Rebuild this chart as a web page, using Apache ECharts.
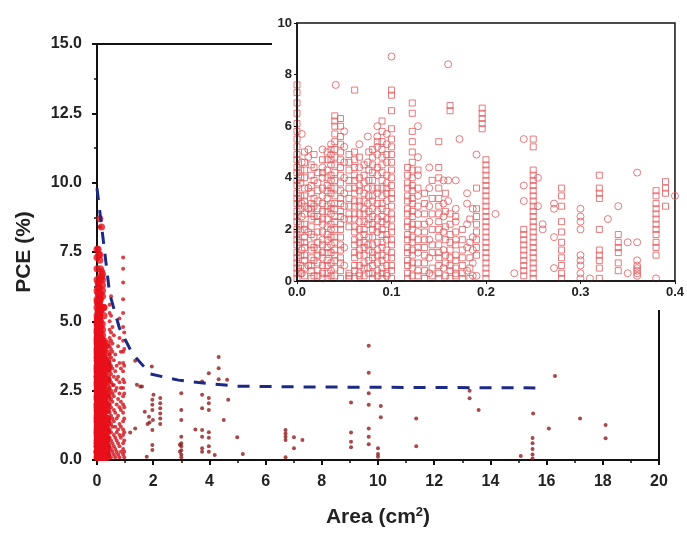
<!DOCTYPE html>
<html>
<head>
<meta charset="utf-8">
<title>PCE vs Area</title>
<script src="https://cdn.jsdelivr.net/npm/echarts@6/dist/echarts.min.js"></script>
<style>
html,body{margin:0;padding:0;background:#fff;}
#chart{width:687px;height:533px;}
</style>
</head>
<body>
<div id="chart"></div>
<script>
// axis ranges (main plot and inset)
var mainXRange = [0, 20, 2];
var mainYRange = [0, 15, 2.5];
var insetXRange = [0, 0.4, 0.1];
var insetYRange = [0, 10, 2];

// small-area cells, hollow squares in the inset: [area, [pce...]]
var insetSquareCols = [
	[0.000, [0.1,0.3,0.5,0.7,0.9,1.1,1.4,1.6,1.8,2.0,2.3,2.5,2.7,3.0,3.2,3.4,3.7,3.9,4.2,4.4,4.7,4.9,5.2,5.5,5.8,6.1,6.5,6.9,7.3,7.6]],
	[0.004, [0.3,0.6,1.0,1.5,1.9,2.2,2.8,3.3,3.8,4.0,4.3]],
	[0.008, [0.2,0.5,0.8,1.0,1.3,1.5,1.7,2.0,2.2,2.6,2.9,3.1,3.3,3.6,4.0,4.3,4.6,5.0]],
	[0.015, [0.1,0.4,0.6,0.9,1.2,1.4,1.8,2.1,2.4,2.6,2.8,3.0,3.4,3.7,4.1,4.5]],
	[0.018, [0.2,0.8,1.3,1.7,2.5,2.9,3.2,3.9,4.4,4.9]],
	[0.022, [0.2,0.4,0.7,1.0,1.2,1.5,1.9,2.3,2.5,2.8,3.1,3.5,3.8,4.2]],
	[0.027, [0.3,0.6,1.1,1.4,1.9,2.4,2.7,3.0,3.6,4.2,4.7]],
	[0.032, [0.1,0.3,0.6,0.8,1.1,1.3,1.6,1.8,2.1,2.4,2.7,2.9,3.2,3.5,3.7,4.0,4.3,4.7,5.0]],
	[0.036, [0.2,0.7,1.1,1.7,2.2,2.8,3.4,3.6,4.1,4.7,5.1]],
	[0.040, [0.2,0.5,0.8,1.0,1.2,1.5,1.7,2.0,2.3,2.5,2.8,3.0,3.3,3.6,3.9,4.2,4.5,4.8,5.1,5.4,5.7,6.0,6.2,6.4]],
	[0.046, [0.1,0.4,0.7,0.9,1.2,1.4,1.7,2.0,2.2,2.5,2.7,3.0,3.2,3.5,3.8,4.1,4.4,4.7,5.0,5.3,5.6,6.0,6.3]],
	[0.055, [0.1,0.2,0.3,2.1,2.4,2.6,2.9,3.2,3.6,3.9,4.3,4.6,4.9]],
	[0.061, [0.1,0.4,0.6,0.9,1.1,1.4,1.6,1.9,2.1,2.4,2.6,2.9,3.1,3.4,3.6,3.9,4.1,4.4,4.7,5.0,7.4]],
	[0.066, [0.2,0.6,1.2,1.5,2.0,2.6,3.1,3.5,4.0,4.8]],
	[0.071, [0.2,0.5,0.7,1.0,1.3,1.5,1.8,2.0,2.3,2.6,2.8,3.1,3.4,3.8,4.1,4.5]],
	[0.076, [0.3,0.8,1.2,1.7,2.4,2.7,3.3,3.9,4.3,5.0]],
	[0.080, [0.1,0.3,0.6,0.9,1.1,1.4,1.7,2.0,2.2,2.5,2.8,3.1,3.3,3.6,3.9,4.2,4.5,4.8,5.1]],
	[0.085, [0.2,0.7,1.0,1.5,2.1,2.4,3.0,3.6,4.4,5.4]],
	[0.090, [0.1,0.3,0.5,0.8,1.0,1.3,1.5,1.8,2.0,2.3,2.5,2.8,3.0,3.3,3.6,3.9,4.2,4.5,4.8,5.1,5.4,5.8,6.2]],
	[0.095, [0.3,0.6,1.2,1.8,2.2,2.7,3.4,3.6,4.1,4.9]],
	[0.100, [0.1,0.4,0.6,0.9,1.1,1.4,1.6,1.9,2.1,2.4,2.6,2.9,3.2,3.4,3.7,4.0,4.3,4.6,4.9,5.2,5.5,5.9,6.6,7.2,7.4]],
	[0.117, [0.1,0.3,0.6,0.8,1.1,1.3,1.6,1.8,2.1,2.3,2.6,2.8,3.1,3.3,3.6,3.8,4.1,4.4]],
	[0.122, [0.2,0.5,0.7,1.0,1.2,1.5,1.7,2.0,2.2,2.5,2.7,3.0,3.2,3.5,3.7,4.0,4.3,4.6,5.0,5.4,5.8,6.5,6.9]],
	[0.128, [0.2,0.7,1.3,1.6,2.2,2.9,3.6,4.3]],
	[0.135, [0.1,0.4,0.7,1.0,1.3,1.6,1.9,2.2,2.6,3.0,3.4]],
	[0.143, [0.2,0.5,1.1,1.4,2.0,2.6,3.2,3.9]],
	[0.150, [0.1,0.3,0.6,0.9,1.1,1.4,1.7,2.0,2.3,2.6,2.9,3.2,3.6,4.0,4.4,5.4]],
	[0.157, [0.2,0.7,1.0,1.6,2.1,2.7,3.4]],
	[0.162, [0.1,0.4,0.6,0.9,1.2,1.5,1.8,2.2,2.6,6.6,6.8]],
	[0.168, [0.2,0.5,0.8,1.4,1.9,2.5]],
	[0.175, [0.1,0.3,0.6,0.9,1.2,1.6,2.0]],
	[0.183, [0.1,0.5,0.9,1.5,2.4]],
	[0.190, [1.0,1.3,1.6,1.9,2.2,2.5,2.8,3.6]],
	[0.196, [5.9,6.1,6.3,6.5,6.7]],
	[0.200, [0.1,0.3,0.5,0.7,0.9,1.1,1.3,1.5,1.7,1.9,2.1,2.3,2.5,2.7,2.9,3.1,3.3,3.5,3.7,3.9,4.1,4.3,4.5,4.7]],
	[0.240, [0.2,0.4,0.6,0.8,1.0,1.2,1.4,1.6,1.8,2.0]],
	[0.250, [0.1,0.3,0.5,0.7,0.9,1.1,1.3,1.5,1.7,1.9,2.1,2.3,2.5,2.7,2.9,3.1,3.3,3.5,3.7,3.9,4.1,4.3,5.2,5.5]],
	[0.280, [0.1,0.3,0.6,0.9,1.2,1.5,1.9,2.3,2.9,3.3,3.6]],
	[0.320, [0.1,0.5,0.8,1.0,1.2,2.0,3.2,3.4,3.6,4.1]],
	[0.340, [0.4,0.7,1.1,1.3,1.5,1.8]],
	[0.380, [1.0,1.3,1.5,1.8,2.0,2.2,2.4,2.6,2.8,3.0,3.3,3.5]],
	[0.390, [2.9,3.4,3.6,3.85]]
];

// hollow circles in the inset
var insetCircleCols = [
	[0.005, [0.3,1.2,2.5,3.0,4.6,5.7]],
	[0.012, [0.6,1.9,2.8,3.6,4.8,5.1]],
	[0.027, [0.1,0.9,1.6,2.2,3.3,4.0,4.4,5.1]],
	[0.036, [0.4,1.4,2.0,2.6,3.0,3.9,4.5,4.9,5.3]],
	[0.041, [7.6]],
	[0.050, [0.6,1.3,2.4,2.9,3.4,4.0,4.6,5.2,5.8]],
	[0.066, [0.3,1.0,1.7,2.3,2.9,3.7,4.4,5.3]],
	[0.075, [0.5,1.4,2.2,3.0,3.6,4.6,5.6]],
	[0.085, [0.4,1.2,1.9,2.7,3.4,4.1,4.9,5.2,5.6,6.0]],
	[0.095, [0.2,0.9,1.6,2.4,3.1,3.8,4.6,5.3,5.7]],
	[0.100, [8.7]],
	[0.128, [0.4,1.1,1.9,2.6,3.3,4.1,4.8,6.0]],
	[0.140, [0.3,0.9,1.6,2.3,2.9,3.6,4.4]],
	[0.155, [0.5,1.2,1.9,2.5,3.0,3.9]],
	[0.160, [3.1,3.9,8.4]],
	[0.168, [0.3,1.0,1.6,2.3,2.8,3.9]],
	[0.172, [5.5]],
	[0.180, [0.4,1.3,2.2,3.0,3.4]],
	[0.186, [0.2,0.7,1.2,1.7,2.8]],
	[0.190, [0.2,4.9]],
	[0.210, [2.6]],
	[0.230, [0.3]],
	[0.240, [3.1,3.7,5.5]],
	[0.255, [2.9,4.0]],
	[0.260, [2.0,2.2]],
	[0.272, [0.5,1.7,2.8,3.0]],
	[0.300, [0.1,0.3,0.6,0.8,1.0,2.0,2.3,2.5,2.8]],
	[0.310, [0.1]],
	[0.329, [2.4]],
	[0.340, [2.9]],
	[0.350, [0.3,1.5]],
	[0.360, [0.2,0.3,0.4,0.5,0.6,0.8,1.5,4.2]],
	[0.380, [0.1]],
	[0.400, [3.3]]
];

// 0.4 - 1 cm2 cells, only visible in the main plot
var mainSmallCols = [
	[0.45, [0.2,0.5,0.8,1.1,1.4,1.7,2.0,2.3,2.6,2.9,3.2,3.5,3.8,4.1,4.4,4.7,5.0,5.3,5.6]],
	[0.50, [0.1,0.4,0.7,1.0,1.3,1.6,1.9,2.2,2.5,2.8,3.1,3.4,3.7,4.0,4.3,4.6,5.2,5.9]],
	[0.55, [0.3,0.6,1.2,1.5,2.1,2.4,2.7,3.3,3.9,4.2,4.8]],
	[0.60, [0.2,0.5,0.9,1.4,1.8,2.3,2.7,3.0,3.6,4.5]],
	[0.65, [0.1,0.4,0.8,1.2,1.7,2.5,3.2,3.8]],
	[0.70, [0.3,0.7,1.0,1.5,2.0,2.6,2.9,3.4]],
	[0.75, [0.2,0.6,1.1,1.6,2.2,3.0,4.1]],
	[0.80, [0.1,0.5,0.9,1.3,1.9,2.4,2.8,3.5,4.4,5.1]],
	[0.85, [0.3,0.8,1.2,1.8,2.1,2.6,3.3,3.9]],
	[0.93, [0.2,0.4,0.6,0.9,1.1,1.4,1.7,2.0,2.3,2.6,2.9,3.2,3.5,3.9,4.3,4.8,5.3,5.8,6.4,6.9,7.3]],
	[0.97, [0.1,0.3,0.7,1.0,1.5,1.9,2.4,2.8,3.4,4.0,4.6]],
	[0.11, [8.4]]
];

// larger cells (area, pce)
var mainLargePts = [
	[1.18,0.99],[1.36,1.14],[1.36,3.58],[1.42,2.71],[1.54,2.65],[1.6,2.65],[1.7,1.74],[1.77,0.12],
	[1.8,1.3],[1.85,1.56],[1.87,1.35],[1.95,3.37],[2.01,2.35],[1.97,2.17],[1.97,1.99],[1.97,1.8],
	[1.99,1.44],[1.97,1.08],[1.97,0.54],[1.97,0.36],[2.25,2.24],[2.25,2.05],[2.25,1.87],[2.25,1.68],
	[2.25,1.5],[2.25,1.3],[3.0,2.41],[3.0,1.8],[3.0,1.44],[3.0,0.84],[3.0,0.6],[3.0,0.5],[3.0,0.35],
	[3.0,0.2],[3.0,0.1],[2.95,0.55],[2.95,0.3],[3.74,2.35],[3.74,1.87],[3.74,1.08],[3.74,0.84],
	[3.74,0.42],[3.74,0.3],[3.5,1.1],[3.98,3.13],[3.98,2.24],[3.98,2.05],[3.98,1.8],[3.98,1.0],
	[3.98,0.8],[3.98,0.5],[3.98,0.3],[4.19,0.18],[3.74,2.83],[4.33,3.71],[4.33,3.31],[4.33,2.91],
	[4.63,2.89],[4.51,1.44],[4.67,2.17],[4.99,0.82],[5.19,0.22],[6.71,1.08],[6.71,0.96],[6.71,0.84],
	[6.71,0.72],[7.01,0.82],[7.31,0.72],[7.01,0.42],[6.71,0.1],[9.67,4.12],[9.67,3.15],[9.67,2.41],
	[9.67,1.99],[9.04,2.07],[10.1,1.95],[10.1,1.54],[11.36,1.5],[11.36,0.5],[9.04,0.99],[9.04,0.66],
	[9.04,0.46],[9.67,1.14],[9.67,0.84],[9.67,0.57],[10.0,0.42],[10.0,0.22],[10.0,0.12],[16.3,3.03],
	[13.26,2.5],[13.26,2.23],[13.58,1.8],[15.52,1.68],[16.08,1.14],[17.19,1.5],[15.5,0.79],[15.5,0.6],
	[15.5,0.4],[15.5,0.2],[15.5,0.05],[15.08,0.14],[18.1,1.26],[18.1,0.78]
];

// trend of the best PCE (dashed)
var bestLine = [
	[0,9.8],[0.25,7.7],[0.45,6.0],[0.8,4.75],[1.25,3.85],[1.9,3.1],[2.9,2.88],[4,2.75],[5,2.66],[8,2.63],[15.6,2.6]
];

function flatCols(cols) { // [x,[y..]] -> [[x,y]..]
	var out = [];
	for (var i = 0; i < cols.length; i++) {
		for (var j = 0; j < cols[i][1].length; j++) out.push([cols[i][0], cols[i][1][j]]);
	}
	return out;
}

var insetSquares = flatCols(insetSquareCols);
var insetCircles = flatCols(insetCircleCols);
var mainTiny = insetSquares.concat(insetCircles); // < 0.4 cm2, solid block in main plot

var font = 'Liberation Sans, Arial, sans-serif';
var lblMain = { fontFamily: font, fontWeight: 'bold', fontSize: 16, color: '#222' };
var lblInset = { fontFamily: font, fontWeight: 'bold', fontSize: 13, color: '#222' };
var blackLine = { lineStyle: { color: '#111', width: 2 } };

var chart = echarts.init(document.getElementById('chart'));
chart.setOption({
	animation: false,
	backgroundColor: '#fff',
	grid: [
		{ left: 97, right: 28, top: 44, bottom: 73, show: true, borderColor: '#111', borderWidth: 2, backgroundColor: 'transparent', z: 0 },
		{ left: 297, right: 9, top: 23, bottom: 252, show: true, borderColor: '#111', borderWidth: 1.5, backgroundColor: 'transparent', z: 10 }
	],
	graphic: [{ // white box behind the inset (hides main frame)
		type: 'rect', left: 272, top: 0, z: 5,
		shape: { width: 415, height: 310 },
		style: { fill: '#fff' }
	}],
	xAxis: [
		{
			gridIndex: 0, type: 'value', min: mainXRange[0], max: mainXRange[1], interval: mainXRange[2],
			axisLine: blackLine,
			axisTick: { inside: false, length: 5, lineStyle: { width: 2, color: '#111' } },
			minorTick: { show: true, splitNumber: 2, length: 3, lineStyle: { width: 1.5, color: '#111' } },
			splitLine: { show: false },
			axisLabel: Object.assign({ margin: 14 }, lblMain),
			name: '{t|Area (cm}{s|2}{t|)}', nameLocation: 'middle', nameGap: 46,
			nameTextStyle: { rich: {
				t: { fontFamily: font, fontWeight: 'bold', fontSize: 21, color: '#222' },
				s: { fontFamily: font, fontWeight: 'bold', fontSize: 13, color: '#222', padding: [0, 0, 10, 0] }
			} }
		},
		{
			gridIndex: 1, type: 'value', min: insetXRange[0], max: insetXRange[1], interval: insetXRange[2], z: 12,
			axisLine: { lineStyle: { color: '#111', width: 1.5 } },
			axisTick: { length: 3, lineStyle: { color: '#111' } },
			splitLine: { show: false },
			axisLabel: Object.assign({ margin: 5, formatter: function (v) { return v.toFixed(1); } }, lblInset)
		}
	],
	yAxis: [
		{
			gridIndex: 0, type: 'value', min: mainYRange[0], max: mainYRange[1], interval: mainYRange[2],
			axisLine: blackLine,
			axisTick: { length: 5, lineStyle: { width: 2, color: '#111' } },
			minorTick: { show: true, splitNumber: 2, length: 3, lineStyle: { width: 1.5, color: '#111' } },
			splitLine: { show: false },
			axisLabel: Object.assign({ margin: 15, formatter: function (v) { return v.toFixed(1); } }, lblMain),
			name: 'PCE (%)', nameLocation: 'middle', nameRotate: 90, nameGap: 62,
			nameTextStyle: { fontFamily: font, fontWeight: 'bold', fontSize: 21, color: '#222' }
		},
		{
			gridIndex: 1, type: 'value', min: insetYRange[0], max: insetYRange[1], interval: insetYRange[2], z: 12,
			axisLine: { lineStyle: { color: '#111', width: 1.5 } },
			axisTick: { length: 3, lineStyle: { color: '#111' } },
			splitLine: { show: false },
			axisLabel: Object.assign({ margin: 5 }, lblInset)
		}
	],
	series: [
		{
			type: 'scatter', xAxisIndex: 0, yAxisIndex: 0, z: 2,
			data: mainTiny, symbol: 'circle', symbolSize: 7,
			itemStyle: { color: '#e8101a' }
		},
		{
			type: 'scatter', xAxisIndex: 0, yAxisIndex: 0, z: 2,
			data: flatCols(mainSmallCols), symbol: 'circle', symbolSize: 4,
			itemStyle: { color: '#d0121a' }
		},
		{
			type: 'scatter', xAxisIndex: 0, yAxisIndex: 0, z: 2,
			data: mainLargePts, symbol: 'circle', symbolSize: 4,
			itemStyle: { color: '#8e1c1e' }
		},
		{
			type: 'line', xAxisIndex: 0, yAxisIndex: 0, z: 3,
			data: bestLine, symbol: 'none',
			lineStyle: { color: '#1c2a84', width: 3, type: [12, 10] }
		},
		{
			type: 'scatter', xAxisIndex: 1, yAxisIndex: 1, z: 11,
			data: insetSquares, symbol: 'rect', symbolSize: 6,
			itemStyle: { color: 'transparent', borderColor: '#e05a5e', borderWidth: 1 }
		},
		{
			type: 'scatter', xAxisIndex: 1, yAxisIndex: 1, z: 11,
			data: insetCircles, symbol: 'circle', symbolSize: 7,
			itemStyle: { color: 'transparent', borderColor: '#e05a5e', borderWidth: 1 }
		}
	]
});
</script>
</body>
</html>
